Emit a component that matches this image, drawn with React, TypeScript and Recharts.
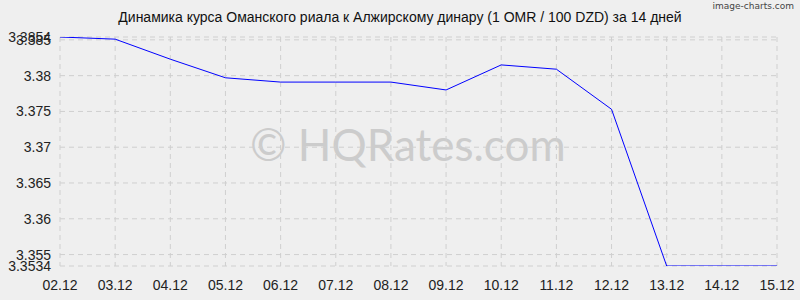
import { CartesianGrid, Line, LineChart, XAxis, YAxis } from "recharts";

const days = ["02.12", "03.12", "04.12", "05.12", "06.12", "07.12", "08.12", "09.12", "10.12", "11.12", "12.12", "13.12", "14.12", "15.12"];
const rates = [3.3854, 3.3851, 3.3823, 3.3797, 3.3791, 3.3791, 3.3791, 3.378, 3.3815, 3.3809, 3.3753, 3.3534, 3.3534, 3.3534];
const yTicks = [3.3534, 3.355, 3.36, 3.365, 3.37, 3.375, 3.38, 3.385, 3.3854];

const data = days.map((day, i) => ({ day, rate: rates[i] }));

const FONT = "'Liberation Sans', Arial, sans-serif";
const TICK = { fontSize: 14, fill: "#222", fontFamily: FONT };

export default function App() {
  return (
    <div style={{ position: "relative", width: 800, height: 300, background: "#efefef", overflow: "hidden" }}>
      <style>{"body{margin:0}"}</style>
      <div
        style={{
          position: "absolute",
          left: 0,
          top: 9,
          width: 800,
          textAlign: "center",
          fontFamily: FONT,
          fontSize: 14,
          color: "#111",
        }}
      >
        Динамика курса Оманского риала к Алжирскому динару (1 OMR / 100 DZD) за 14 дней
      </div>
      <div
        style={{
          position: "absolute",
          right: 6,
          top: 1,
          fontFamily: "'DejaVu Sans', sans-serif",
          fontSize: 9,
          color: "#444",
        }}
      >
        image-charts.com
      </div>
      <div
        style={{
          position: "absolute",
          left: 250,
          top: 118,
          fontFamily: "Lato, sans-serif",
          fontSize: 44,
          color: "#cccccc",
          whiteSpace: "nowrap",
        }}
      >
        © HQRates.com
      </div>
      <div style={{ position: "absolute", left: 0, top: 0 }}>
        <LineChart width={800} height={300} data={data} margin={{ top: 37, right: 23, bottom: 0, left: 0 }}>
          <CartesianGrid stroke="#cfcfcf" strokeDasharray="5 4" />
          <XAxis
            dataKey="day"
            tick={TICK}
            tickLine={false}
            axisLine={false}
            height={34}
            interval={0}
            tickMargin={8}
          />
          <YAxis
            type="number"
            domain={[3.3534, 3.3854]}
            ticks={yTicks}
            tick={TICK}
            tickLine={false}
            axisLine={false}
            width={60}
            tickMargin={3}
            interval={0}
            allowDataOverflow
          />
          <Line
            type="linear"
            dataKey="rate"
            stroke="#0000ff"
            strokeWidth={1}
            dot={false}
            isAnimationActive={false}
          />
        </LineChart>
      </div>
    </div>
  );
}
